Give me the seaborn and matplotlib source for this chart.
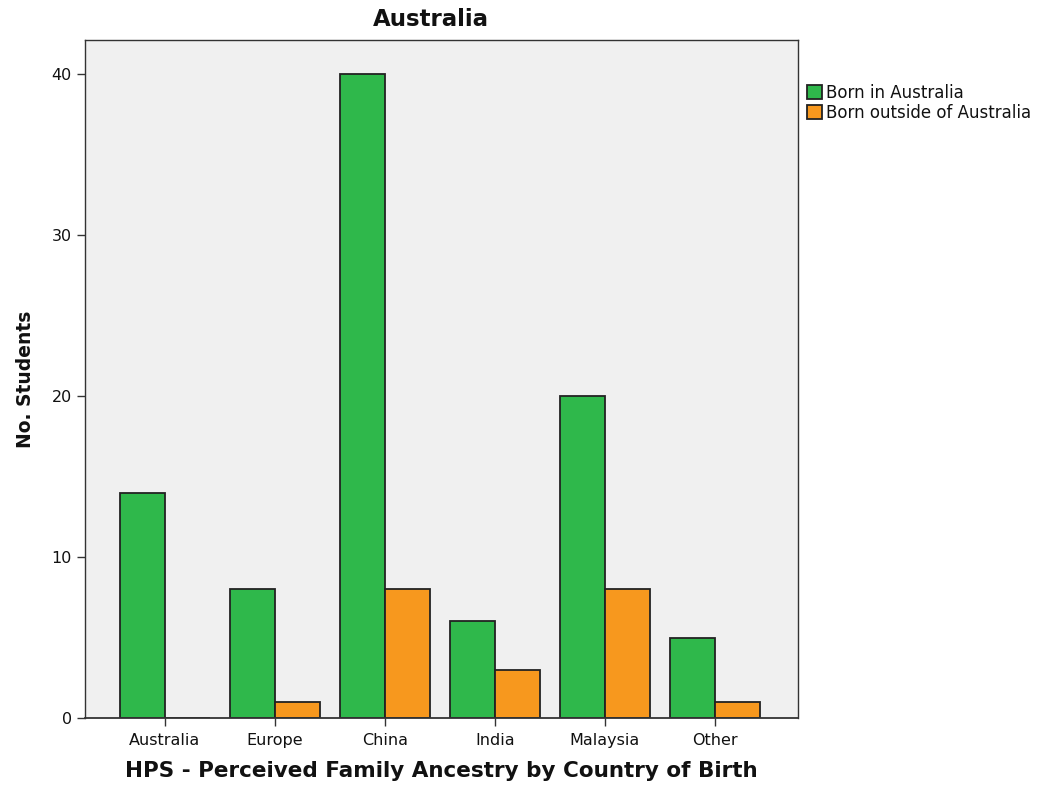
import matplotlib
matplotlib.use("Agg")
import matplotlib.pyplot as plt
import seaborn as sns
import pandas as pd

categories = ["Australia", "Europe", "China", "India", "Malaysia", "Other"]
born_in = [14, 8, 40, 6, 20, 5]
born_outside = [0, 1, 8, 3, 8, 1]
series = ["Born in Australia", "Born outside of Australia"]

df = pd.DataFrame({
    "cat": categories * 2,
    "val": born_in + born_outside,
    "series": [series[0]] * len(categories) + [series[1]] * len(categories),
})

sns.set_style("white")
plt.rcParams['font.family'] = ['Liberation Sans', 'DejaVu Sans']

fig = plt.figure(figsize=(10.37, 7.92), dpi=100)
ax = fig.add_axes([0.082, 0.0934, 0.6875, 0.8561])
ax.set_facecolor("#f0f0f0")

palette = {series[0]: "#2fb84b", series[1]: "#f7981e"}
sns.barplot(data=df, x="cat", y="val", hue="series", order=categories,
            hue_order=series, palette=palette, width=0.82, saturation=1,
            edgecolor="#222222", linewidth=1.3, ax=ax, legend=True)

ax.set_xlim(-0.727, 5.755)
ax.set_ylim(0, 42.1)
ax.set_yticks([0, 10, 20, 30, 40])
ax.tick_params(axis="both", which="both", direction="out", length=6, width=1,
               color="#333333", labelsize=11.5, labelcolor="#111111", left=True, bottom=True)
ax.tick_params(axis="x", pad=5)
for lab in ax.get_xticklabels() + ax.get_yticklabels():
    lab.set_family(["DejaVu Sans"])
for s in ax.spines.values():
    s.set_color("#333333")
    s.set_linewidth(1)
ax.spines["bottom"].set_linewidth(1.3)

ax.set_title("Australia", fontsize=16.5, fontweight="bold", pad=10, color="#111111",
             family=["DejaVu Sans"], x=0.485)
ax.set_xlabel("HPS - Perceived Family Ancestry by Country of Birth", fontsize=15.5,
              fontweight="bold", labelpad=9, color="#111111", family=["DejaVu Sans"])
ax.set_ylabel("No. Students", fontsize=13.5, fontweight="bold", labelpad=12,
              color="#111111", family=["DejaVu Sans"])

leg = ax.legend(loc="upper left", bbox_to_anchor=(0.998, 0.95), frameon=False,
                prop={"family": ["DejaVu Sans"], "size": 12}, handlelength=0.9,
                handleheight=0.9, handletextpad=0.25, borderaxespad=0.2, labelspacing=0.12)
for t in leg.get_texts():
    t.set_color("#111111")

fig.savefig("out.png", dpi=100)
